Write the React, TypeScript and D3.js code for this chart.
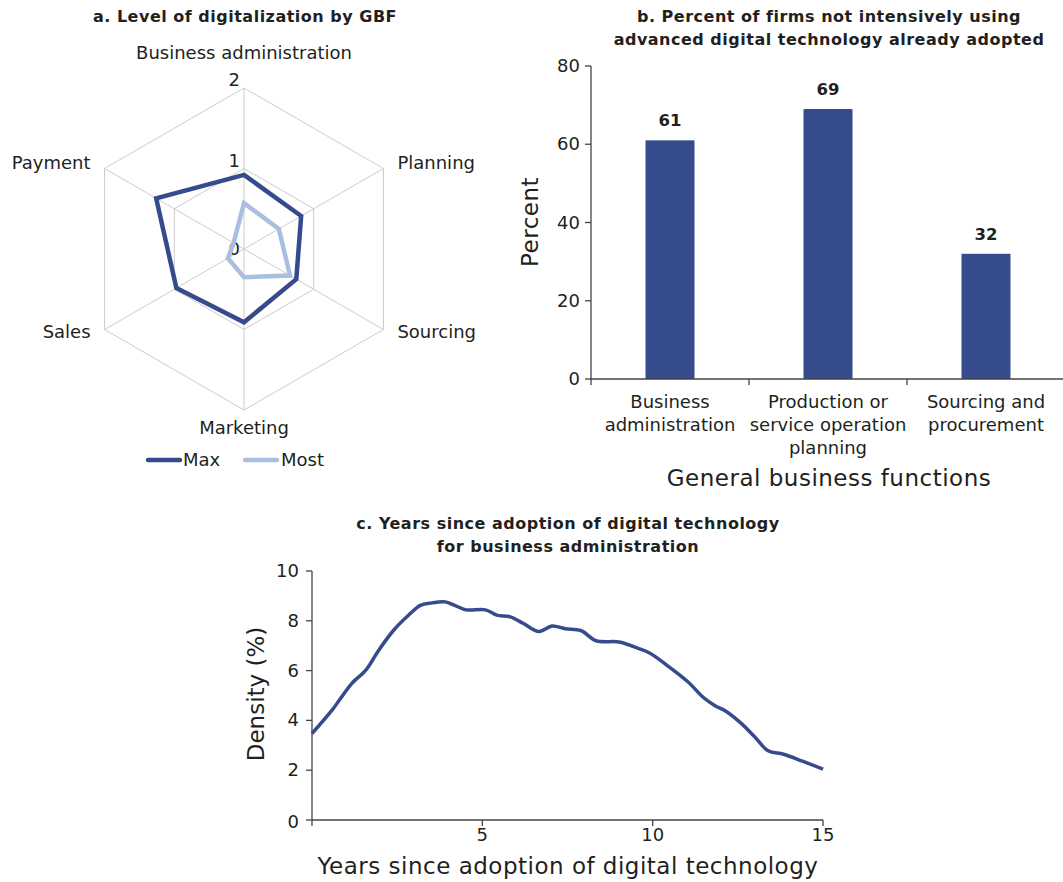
import * as d3 from "d3";

// panel a: radar
const radarAxes = ["Business administration", "Planning", "Sourcing", "Marketing", "Sales", "Payment"];
const radarMax = [0.92, 0.82, 0.75, 0.91, 0.97, 1.26];
const radarMost = [0.57, 0.5, 0.66, 0.35, 0.23, 0.15];
const radarTicks = [0, 1, 2];

// panel b: bars
const barCategories = [
  ["Business", "administration"],
  ["Production or", "service operation", "planning"],
  ["Sourcing and", "procurement"],
];
const barValues = [61, 69, 32];
const barTicks = [0, 20, 40, 60, 80];

// panel c: density curve
const densityYears = [0, 0.6, 0.82, 1.16, 1.6, 1.94, 2.39, 2.84, 3.18, 3.51, 3.91, 4.19, 4.52, 5.09, 5.42, 5.82, 6.21, 6.66, 7.05, 7.44, 7.89, 8.34, 9.02, 9.46, 9.91, 10.47, 11.04, 11.49, 11.82, 12.16, 12.6, 13.0, 13.39, 13.84, 14.4, 15.0];
const densityValues = [3.47, 4.43, 4.85, 5.47, 6.05, 6.78, 7.61, 8.23, 8.62, 8.72, 8.76, 8.62, 8.44, 8.44, 8.23, 8.16, 7.89, 7.57, 7.79, 7.68, 7.61, 7.2, 7.15, 6.95, 6.71, 6.16, 5.54, 4.92, 4.6, 4.36, 3.88, 3.33, 2.78, 2.64, 2.36, 2.04];
const densityXTicks = [0, 5, 10, 15];
const densityYTicks = [0, 2, 4, 6, 8, 10];

const DARK = "#364b8b";
const LIGHT = "#a9bfe0";
const TEXT = "#231f20";
const FONT = "'DejaVu Sans', sans-serif";
const LABEL = 18;
const TITLE = 16;
const TITLE_LS = 0.5;
const AXIS_TITLE = 23;
const AXIS_LS = 0.5;

function Radar() {
  const cx = 244;
  const cy = 249;
  const r = d3.scaleLinear().domain([0, 2]).range([0, 161]);
  const angle = (i: number) => (i * Math.PI * 2) / radarAxes.length;
  const pt = (i: number, v: number) => [cx + r(v) * Math.sin(angle(i)), cy - r(v) * Math.cos(angle(i))];
  const line = d3
    .lineRadial<number>()
    .angle((_, i) => angle(i))
    .radius((d) => r(d))
    .curve(d3.curveLinearClosed);

  return (
    <g>
      <text x={245} y={22} textAnchor="middle" fontWeight={700} fontSize={TITLE} letterSpacing={TITLE_LS} fill={TEXT}>
        a. Level of digitalization by GBF
      </text>
      {[1, 2].map((lv) => (
        <path key={lv} d={line(radarAxes.map(() => lv)) ?? ""} transform={`translate(${cx},${cy})`} fill="none" stroke="#cccccc" strokeWidth={1} />
      ))}
      {radarAxes.map((_, i) => {
        const [x, y] = pt(i, 2);
        return <line key={i} x1={cx} y1={cy} x2={x} y2={y} stroke="#cccccc" strokeWidth={1} />;
      })}
      {radarTicks.map((t) => (
        <text key={t} x={cx - 4} y={cy - r(t) + (t === 0 ? 6 : -2)} textAnchor="end" fontSize={LABEL} fill={TEXT}>
          {t}
        </text>
      ))}
      <path d={line(radarMost) ?? ""} transform={`translate(${cx},${cy})`} fill="none" stroke={LIGHT} strokeWidth={4.5} strokeLinejoin="miter" />
      <path d={line(radarMax) ?? ""} transform={`translate(${cx},${cy})`} fill="none" stroke={DARK} strokeWidth={4.5} strokeLinejoin="miter" />
      {radarAxes.map((name, i) => {
        const [x, y] = pt(i, 2);
        let anchor = "middle";
        let tx = x;
        let ty = y;
        if (i === 0) ty = y - 29;
        else if (i === 3) ty = y + 24;
        else if (i === 1 || i === 2) {
          anchor = "start";
          tx = x + 14;
          ty = y + (i === 1 ? 0 : 8);
        } else {
          anchor = "end";
          tx = x - 14;
          ty = y + (i === 5 ? 0 : 8);
        }
        return (
          <text key={name} x={tx} y={ty} textAnchor={anchor} fontSize={LABEL} fill={TEXT}>
            {name}
          </text>
        );
      })}
      <line x1={148} x2={180} y1={460} y2={460} stroke={DARK} strokeWidth={4.5} strokeLinecap="round" />
      <text x={183} y={466} fontSize={LABEL} fill={TEXT}>Max</text>
      <line x1={245} x2={277} y1={460} y2={460} stroke={LIGHT} strokeWidth={4.5} strokeLinecap="round" />
      <text x={281} y={466} fontSize={LABEL} fill={TEXT}>Most</text>
    </g>
  );
}

function Bars() {
  const x = d3.scaleBand<number>().domain(barValues.map((_, i) => i)).range([591, 1065]).padding(0);
  const y = d3.scaleLinear().domain([0, 80]).range([379, 66]);
  const bw = x.bandwidth() * 0.31;
  return (
    <g>
      <text x={829} y={22} textAnchor="middle" fontWeight={700} fontSize={TITLE} letterSpacing={TITLE_LS} fill={TEXT}>
        b. Percent of firms not intensively using
      </text>
      <text x={829} y={45} textAnchor="middle" fontWeight={700} fontSize={TITLE} letterSpacing={TITLE_LS} fill={TEXT}>
        advanced digital technology already adopted
      </text>
      {barValues.map((v, i) => {
        const cxb = (x(i) ?? 0) + x.bandwidth() / 2;
        return (
          <g key={i}>
            <rect x={cxb - bw / 2} y={y(v)} width={bw} height={y(0) - y(v)} fill={DARK} />
            <text x={cxb} y={y(v) - 14} textAnchor="middle" fontWeight={700} fontSize={16.5} fill={TEXT}>
              {v}
            </text>
            {barCategories[i].map((ln, j) => (
              <text key={j} x={cxb} y={408 + j * 23} textAnchor="middle" fontSize={LABEL} fill={TEXT}>
                {ln}
              </text>
            ))}
          </g>
        );
      })}
      <line x1={591} x2={591} y1={y(80)} y2={y(0)} stroke="#444" strokeWidth={1.3} />
      <line x1={591} x2={1063} y1={y(0)} y2={y(0)} stroke="#444" strokeWidth={1.3} />
      {barTicks.map((t) => (
        <g key={t}>
          <line x1={585} x2={591} y1={y(t)} y2={y(t)} stroke="#444" strokeWidth={1.3} />
          <text x={580} y={y(t) + 6} textAnchor="end" fontSize={LABEL} fill={TEXT}>
            {t}
          </text>
        </g>
      ))}
      {barValues.map((_, i) => (
        <line key={i} x1={x(i) ?? 0} x2={x(i) ?? 0} y1={y(0)} y2={y(0) + 6} stroke="#444" strokeWidth={1.3} />
      ))}
      <text transform={`translate(538,222) rotate(-90)`} textAnchor="middle" fontSize={AXIS_TITLE} letterSpacing={AXIS_LS} fill={TEXT}>
        Percent
      </text>
      <text x={829} y={486} textAnchor="middle" fontSize={AXIS_TITLE} letterSpacing={AXIS_LS} fill={TEXT}>
        General business functions
      </text>
    </g>
  );
}

function Density() {
  const x = d3.scaleLinear().domain([0, 15]).range([312, 823]);
  const y = d3.scaleLinear().domain([0, 10]).range([820, 571]);
  const line = d3
    .line<number>()
    .x((_, i) => x(densityYears[i]))
    .y((d) => y(d))
    .curve(d3.curveCatmullRom.alpha(0.5));
  return (
    <g>
      <text x={568} y={529} textAnchor="middle" fontWeight={700} fontSize={TITLE} letterSpacing={TITLE_LS} fill={TEXT}>
        c. Years since adoption of digital technology
      </text>
      <text x={568} y={552} textAnchor="middle" fontWeight={700} fontSize={TITLE} letterSpacing={TITLE_LS} fill={TEXT}>
        for business administration
      </text>
      <line x1={312} x2={312} y1={y(10)} y2={y(0)} stroke="#444" strokeWidth={1.3} />
      <line x1={312} x2={823} y1={y(0)} y2={y(0)} stroke="#444" strokeWidth={1.3} />
      {densityYTicks.map((t) => (
        <g key={t}>
          <line x1={306} x2={312} y1={y(t)} y2={y(t)} stroke="#444" strokeWidth={1.3} />
          <text x={299} y={y(t) + (t === 0 ? 8 : 6)} textAnchor="end" fontSize={LABEL} fill={TEXT}>
            {t}
          </text>
        </g>
      ))}
      {densityXTicks.map((t) => (
        <g key={t}>
          <line x1={x(t)} x2={x(t)} y1={y(0)} y2={y(0) + 6} stroke="#444" strokeWidth={1.3} />
          {t > 0 && (
            <text x={x(t)} y={841} textAnchor="middle" fontSize={LABEL} fill={TEXT}>
              {t}
            </text>
          )}
        </g>
      ))}
      <path d={line(densityValues) ?? ""} fill="none" stroke={DARK} strokeWidth={3.5} strokeLinejoin="round" />
      <text transform={`translate(264,694) rotate(-90)`} textAnchor="middle" fontSize={AXIS_TITLE} fill={TEXT}>
        Density (%)
      </text>
      <text x={568} y={874} textAnchor="middle" fontSize={AXIS_TITLE} letterSpacing={AXIS_LS} fill={TEXT}>
        Years since adoption of digital technology
      </text>
    </g>
  );
}

export default function App() {
  return (
    <svg
      width={1063}
      height={882}
      style={{ position: "absolute", left: 0, top: 0, background: "#fff" }}
      fontFamily={FONT}
    >
      <Radar />
      <Bars />
      <Density />
    </svg>
  );
}
